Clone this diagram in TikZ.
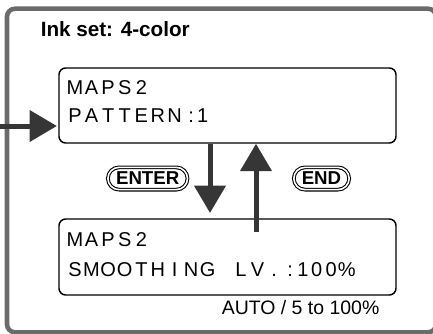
\documentclass[tikz,border=0pt]{standalone}
\usepackage{fontspec}
\setmainfont{Liberation Sans}
\usetikzlibrary{arrows.meta,shapes.misc}
\newlength\px \setlength\px{0.75pt}
\newcommand\lc[1]{\makebox[16.6\px][c]{#1}}
\definecolor{framegray}{HTML}{6B6B6B}
\definecolor{arrowgray}{HTML}{363636}
\begin{document}
\begin{tikzpicture}[x=0.75pt,y=-0.75pt,
 frame/.style={draw=framegray,line width=3.4pt,rounded corners=6pt},
 lcdbox/.style={draw=black,line width=1.1pt,rounded corners=5pt,minimum width=252.75pt,inner sep=0pt},
 lcdtext/.style={inner sep=0pt,anchor=base west,font=\fontsize{15pt}{18pt}\selectfont},
 keybtn/.style={rounded rectangle,draw=black,line width=0.8pt,double=white,double distance=1.2pt,minimum height=16.7pt,inner sep=0pt,font=\bfseries\fontsize{14pt}{16pt}\selectfont},
 flow/.style={draw=arrowgray,line width=3.75pt,-{Triangle[length=20.5pt,width=23pt]},arrowgray},
 plain/.style={inner sep=0pt,anchor=base west}
]
\useasboundingbox (0,0) rectangle (433,333);
\draw[frame] (7,8.7) rectangle (436,332.3);
\node[plain,font=\bfseries\fontsize{15.5pt}{18pt}\selectfont] (title) at (40.5,36) {Ink set: 4-color};
\node[lcdbox,minimum height=56.25pt] (box1) at (227.5,105.5) {};
\node[lcdbox,minimum height=57pt] (box2) at (227.5,257) {};
\node[lcdtext] (t1a) at (66.4,94) {\lc{M}\lc{A}\lc{P}\lc{S}\lc{2}};
\node[lcdtext] (t1b) at (66.4,122) {\lc{P}\lc{A}\lc{T}\lc{T}\lc{E}\lc{R}\lc{N}\lc{:}\kern-2.3\px 1};
\node[lcdtext] (t2a) at (66.4,246.7) {\lc{M}\lc{A}\lc{P}\lc{S}\lc{2}};
\node[lcdtext] (t2b) at (66.4,276.3) {\lc{S}\lc{M}\lc{O}\lc{O}\lc{T}\lc{H}\lc{I}\lc{N}\lc{G}\lc{~}\lc{L}\lc{V}\lc{.}\kern5\px :\kern4.35\px 1\kern2.7\px 0\kern3.4\px 0\kern1.05\px \%};
\node[keybtn,minimum width=59.7pt] (enter) at (147.7,178.5) {ENTER};
\node[keybtn,minimum width=41.5pt] (end) at (321.5,178.5) {END};
\node[plain,font=\fontsize{14.6pt}{17pt}\selectfont] (range) at (221.5,314.5) {AUTO / 5 to 100\%};
\coordinate (lin) at (0,126);
\coordinate (dtip) at (210,213);
\coordinate (utail) at (256,232);
\draw[flow,shorten >=1pt] (lin) -- (lin -| box1.west);
\draw[flow] (dtip |- box1.south) -- (dtip);
\draw[flow] (utail) -- (utail |- box1.south);
\end{tikzpicture}
\end{document}
